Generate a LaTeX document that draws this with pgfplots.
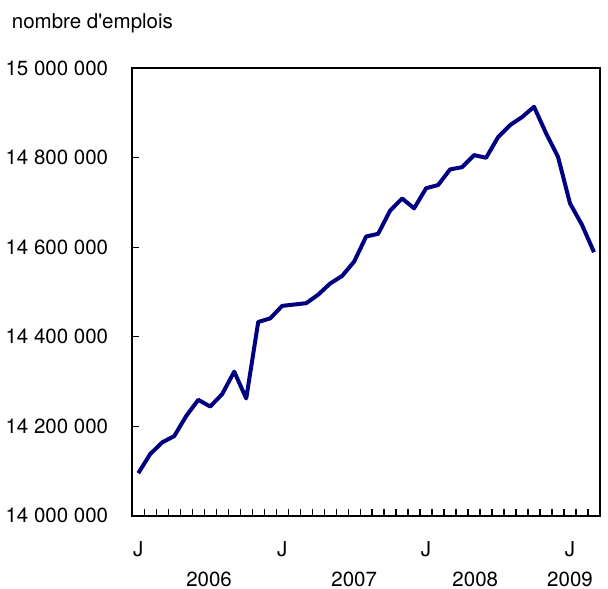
\documentclass[border=0pt]{standalone}
\usepackage{pgfplots}
\pgfplotsset{compat=1.18}
\usepackage{fontspec}
\setmainfont{TeX Gyre Heros}[Ligatures=TeXOff]
\definecolor{navyline}{RGB}{0,0,128}
\begin{document}
\fontsize{20.5}{24}\selectfont
\begin{tikzpicture}
\path[use as bounding box] (-132.3pt,-73.3pt) rectangle (475.7pt,515.7pt);
\begin{axis}[
  at={(0pt,0pt)}, anchor=south west,
  scale only axis,
  width=467.7pt, height=447.4pt,
  xmin=-0.5, xmax=38.5,
  ymin=14000000, ymax=15000000,
  scaled y ticks=false,
  axis line style={line width=1.8pt},
  clip=false,
  xtick={0,12,24,36},
  xticklabels={J,J,J,J},
  minor xtick={0.5,1.5,...,37.5},
  ytick={14000000,14200000,14400000,14600000,14800000,15000000},
  yticklabels={14 000 000,14 200 000,14 400 000,14 600 000,14 800 000,15 000 000},
  tick align=inside,
  major tick length=7pt,
  minor tick length=7pt,
  tick style={line width=1.3pt, black},
  major x tick style={draw=none},
  ytick pos=left,
  xtick pos=bottom,
  yticklabel style={anchor=east, inner sep=0pt, xshift=-24pt, font=\fontsize{20.5}{24}\selectfont},
  xticklabel style={anchor=base, inner sep=0pt, yshift=-40.8pt, font=\fontsize{20.5}{24}\selectfont},
]
\addplot[navyline, line width=4pt, line join=round] coordinates {
(0,14095000) (1,14138000) (2,14164000) (3,14178000) (4,14223000) (5,14259000)
(6,14244000) (7,14272000) (8,14322000) (9,14262000) (10,14433000) (11,14441000)
(12,14469000) (13,14472000) (14,14475000) (15,14494000) (16,14519000) (17,14536000)
(18,14568000) (19,14624000) (20,14630000) (21,14682000) (22,14709000) (23,14687000)
(24,14732000) (25,14739000) (26,14774000) (27,14779000) (28,14806000) (29,14800000)
(30,14846000) (31,14873000) (32,14891000) (33,14914000) (34,14855000) (35,14802000)
(36,14698000) (37,14650000) (38,14589000)
};
\node[anchor=base, inner sep=0pt, yshift=-70.8pt] at (axis cs:5.9,14000000) {2006};
\node[anchor=base, inner sep=0pt, yshift=-70.8pt] at (axis cs:18,14000000) {2007};
\node[anchor=base, inner sep=0pt, yshift=-70.8pt] at (axis cs:28.1,14000000) {2008};
\node[anchor=base, inner sep=0pt, yshift=-70.8pt] at (axis cs:36,14000000) {2009};
\end{axis}
\node[anchor=base west, inner sep=0pt] at (-120.6pt,487.4pt) {nombre d'emplois};
\end{tikzpicture}
\end{document}
